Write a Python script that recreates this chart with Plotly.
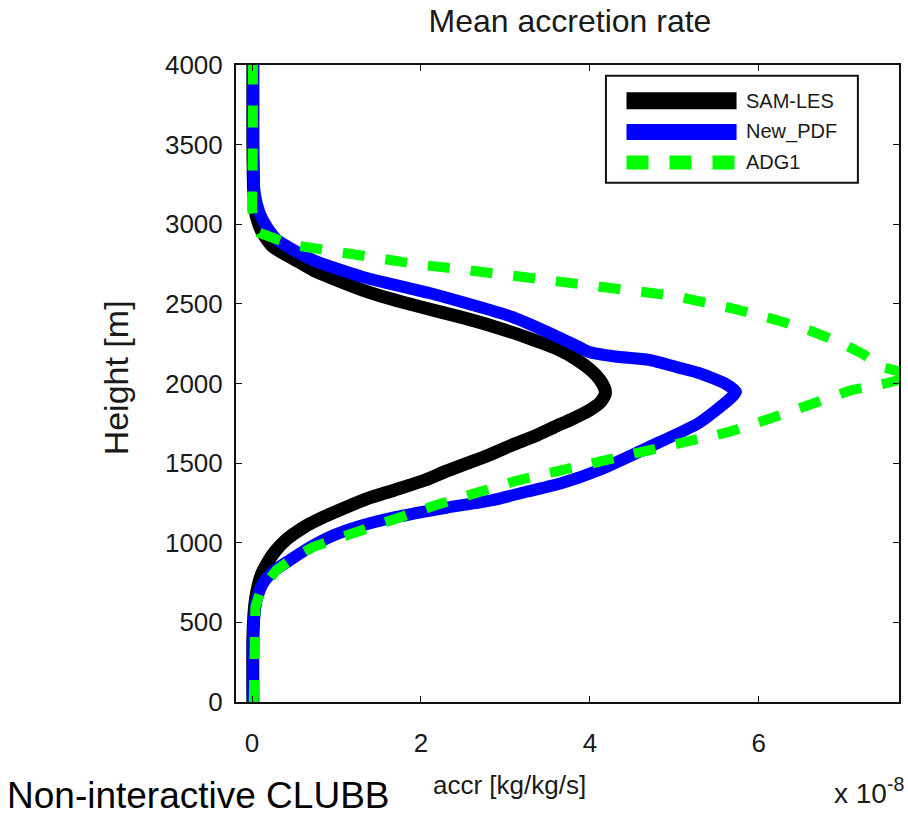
import plotly.graph_objects as go

# Mean accretion rate profiles (values in units of 1e-8 kg/kg/s) versus height [m]
sam_height = [0, 400, 600, 703, 800, 873, 950, 1017, 1050, 1100, 1162, 1220, 1280, 1330,
              1394, 1450, 1500, 1550, 1614, 1670, 1727, 1780, 1834, 1880, 1930, 1960,
              2022, 2080, 2148, 2220, 2290, 2360, 2420, 2480, 2530, 2587, 2650, 2713,
              2780, 2857, 2950, 3050, 3200, 3500, 4000]
sam_accr = [0.01, 0.01, 0.03, 0.06, 0.11, 0.18, 0.28, 0.40, 0.48, 0.62, 0.85, 1.1, 1.38, 1.68,
            2.05, 2.3, 2.55, 2.8, 3.08, 3.35, 3.58, 3.8, 4.0, 4.12, 4.18, 4.18,
            4.12, 4.02, 3.85, 3.6, 3.25, 2.85, 2.45, 2.0, 1.65, 1.31, 1.0, 0.72,
            0.5, 0.25, 0.12, 0.05, 0.02, 0.01, 0.01]

pdf_height = [0, 400, 559, 650, 747, 820, 892, 960, 1036, 1100, 1162, 1220, 1268, 1320, 1375,
              1457, 1601, 1752, 1900, 1947, 2000, 2066, 2100, 2148, 2170, 2198,
              2229, 2317, 2418, 2568, 2669, 2776, 2901, 2980, 3070, 3200, 3500, 4000]
pdf_accr = [0.01, 0.01, 0.03, 0.06, 0.13, 0.25, 0.45, 0.65, 0.92, 1.25, 1.71, 2.3, 2.85, 3.25, 3.67,
            4.11, 4.70, 5.29, 5.65, 5.73, 5.6, 5.29, 5.05, 4.70, 4.3, 3.99,
            3.87, 3.52, 3.08, 2.10, 1.31, 0.72, 0.30, 0.18, 0.09, 0.03, 0.01, 0.01]

adg_height = [0, 300, 597, 700, 829, 900, 973, 1068, 1237, 1394, 1457, 1520, 1570,
              1633, 1695, 1783, 1878, 1959, 2000, 2050, 2104, 2180, 2254, 2336,
              2400, 2470, 2550, 2600, 2650, 2681, 2713, 2744, 2782, 2819, 2870,
              2945, 3008, 3100, 3278, 3500, 4000]
adg_accr = [0.02, 0.02, 0.04, 0.10, 0.29, 0.48, 0.72, 1.24, 2.18, 3.16, 3.67, 4.19, 4.66,
            5.17, 5.64, 6.15, 6.62, 7.10, 7.5, 7.85, 7.45, 7.25, 6.98, 6.59,
            6.2, 5.7, 5.0, 4.3, 3.6, 3.05, 2.54, 2.02, 1.51, 1.0, 0.48,
            0.09, 0.02, 0.0, 0.01, 0.01, 0.01]

series_names = ["SAM-LES", "New_PDF", "ADG1"]
series_colors = ["#000000", "#0000ff", "#00ff00"]
series_widths = [13, 12, 10]
series_dash = ["solid", "solid", "22px,21px"]

x_ticks = [0, 2, 4, 6]
y_ticks = [0, 500, 1000, 1500, 2000, 2500, 3000, 3500, 4000]

FONT = "Liberation Sans, Arial, Helvetica, sans-serif"
TXT = "#1a1a1a"

fig = go.Figure()
for xs, ys, name, color, w, d, smooth in [
    (sam_accr, sam_height, series_names[0], series_colors[0], series_widths[0], series_dash[0], True),
    (pdf_accr, pdf_height, series_names[1], series_colors[1], series_widths[1], series_dash[1], True),
    (adg_accr, adg_height, series_names[2], series_colors[2], series_widths[2], series_dash[2], False),
]:
    line = dict(color=color, width=w, dash=d)
    if smooth:
        line.update(shape="spline", smoothing=0.6)
    fig.add_trace(go.Scatter(x=xs, y=ys, mode="lines", name=name, line=line))

axis_common = dict(showgrid=False, zeroline=False, showline=True, linecolor="#111",
                   linewidth=2, mirror="allticks", ticks="inside", ticklen=6,
                   tickwidth=1, tickcolor="#111",
                   tickfont=dict(family=FONT, size=26, color=TXT))

fig.update_xaxes(range=[-0.19, 7.66], tickvals=x_ticks, ticklabelstandoff=17, **axis_common)
fig.update_yaxes(range=[0, 4000], tickvals=y_ticks, ticklabelstandoff=6, **axis_common)

# Legend drawn as a framed box with line samples
lx0, lx1, ly0, ly1 = 0.558, 0.938, 0.815, 0.983
shapes = [dict(type="rect", xref="paper", yref="paper", x0=lx0, x1=lx1, y0=ly0, y1=ly1,
               line=dict(color="#111", width=2), fillcolor="white", layer="above")]
row_y = [0.944, 0.895, 0.847]
annotations = []
for name, color, yy, w, d in zip(series_names, series_colors, row_y, series_widths, series_dash):
    shapes.append(dict(type="line", xref="paper", yref="paper", x0=0.589, x1=0.755,
                       y0=yy, y1=yy, line=dict(color=color, width=w + 4, dash=d), layer="above"))
    annotations.append(dict(xref="paper", yref="paper", x=0.766, y=yy, text=name,
                            showarrow=False, xanchor="left", yanchor="middle",
                            font=dict(family=FONT, size=20, color=TXT)))

annotations += [
    dict(xref="paper", yref="paper", x=(510 - 236) / 665, y=-(785 - 702) / 637,
         text="accr [kg/kg/s]", showarrow=False, xanchor="center", yanchor="middle",
         font=dict(family=FONT, size=26, color=TXT)),
    dict(xref="paper", yref="paper", x=(834 - 236) / 665, y=-(791 - 702) / 637,
         text="x 10<sup>-8</sup>", showarrow=False, xanchor="left", yanchor="middle",
         font=dict(family=FONT, size=28, color=TXT)),
    dict(xref="paper", yref="paper", x=-(236 - 116) / 665, y=(702 - 378) / 637,
         text="Height [m]", textangle=-90, showarrow=False, xanchor="center", yanchor="middle",
         font=dict(family=FONT, size=34, color=TXT)),
    dict(xref="paper", yref="paper", x=-(236 - 4) / 665, y=-(795 - 702) / 637,
         text="Non-interactive CLUBB", showarrow=False, xanchor="left", yanchor="middle",
         font=dict(family=FONT, size=37, color="#000")),
]

fig.update_layout(
    width=908, height=815,
    margin=dict(l=236, r=7, t=65, b=113),
    paper_bgcolor="white", plot_bgcolor="white",
    showlegend=False,
    title=dict(text="Mean accretion rate", x=570 / 908, xanchor="center",
               y=1 - 21 / 815, yanchor="middle",
               font=dict(family=FONT, size=32, color=TXT)),
    shapes=shapes, annotations=annotations,
)

fig.write_html("out.html")
